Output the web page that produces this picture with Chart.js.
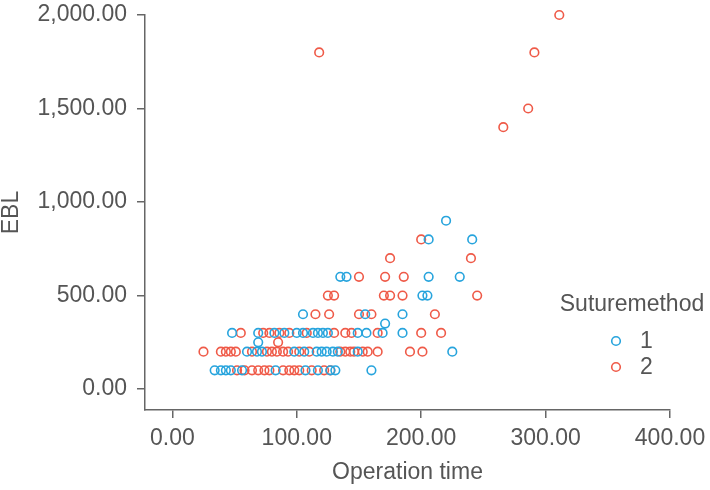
<!DOCTYPE html>
<html>
<head>
<meta charset="utf-8">
<script src="https://cdn.jsdelivr.net/npm/chart.js@4/dist/chart.umd.min.js"></script>
<style>
  html, body { margin: 0; padding: 0; background: #ffffff; }
  #wrap { width: 710px; height: 490px; position: relative; }
</style>
</head>
<body>
<div id="wrap"><canvas id="c" width="710" height="490"></canvas></div>
<script>
// ---- Data ----
const seriesNames = ['1', '2'];
const legendTitle = 'Suturemethod';
const xTitle = 'Operation time';
const yTitle = 'EBL';
const xTickValues = [0, 100, 200, 300, 400];
const yTickValues = [0, 500, 1000, 1500, 2000];

// Suturemethod 1 (blue)
const time1 = [34, 39, 43, 47, 56, 83, 107, 117, 127, 131, 160,
               60, 68, 72, 98, 106, 116, 120, 124, 129, 133, 149, 225,
               69,
               48, 69, 82, 90, 100, 105, 113, 117, 121, 125, 149, 156, 169, 185,
               171,
               105, 155, 185,
               201, 205,
               135, 140, 206, 231,
               206, 241,
               220];
const ebl1  = [100, 100, 100, 100, 100, 100, 100, 100, 100, 100, 100,
               200, 200, 200, 200, 200, 200, 200, 200, 200, 200, 200, 200,
               250,
               300, 300, 300, 300, 300, 300, 300, 300, 300, 300, 300, 300, 300, 300,
               350,
               400, 400, 400,
               500, 500,
               600, 600, 600, 600,
               800, 800,
               900];

// Suturemethod 2 (red)
const time2 = [52, 58, 64, 69, 74, 78, 89, 94, 98, 102, 112, 122, 127,
               25, 39, 43, 47, 51, 64, 76, 80, 84, 89, 93, 102, 110, 135, 139, 143, 146, 153, 157, 165, 191, 201,
               85,
               55, 73, 78, 86, 94, 108, 130, 139, 144, 165, 200, 216,
               115, 126, 150, 160, 211,
               125, 130, 170, 175, 185, 245,
               150, 171, 186,
               175, 240,
               200,
               266, 286, 118, 291, 311];
const ebl2  = [100, 100, 100, 100, 100, 100, 100, 100, 100, 100, 100, 100, 100,
               200, 200, 200, 200, 200, 200, 200, 200, 200, 200, 200, 200, 200, 200, 200, 200, 200, 200, 200, 200, 200, 200,
               250,
               300, 300, 300, 300, 300, 300, 300, 300, 300, 300, 300, 300,
               400, 400, 400, 400, 400,
               500, 500, 500, 500, 500, 500,
               600, 600, 600,
               700, 700,
               800,
               1400, 1500, 1800, 1800, 2000];

// ---- Styling ----
const BLUE = '#27a4dd';
const RED = '#ef5a48';
const AXIS = '#666666';
const TEXT = '#555555';
const FONT = "'Liberation Sans', Arial, Helvetica, sans-serif";
const FS = 23;

const toPoints = (xs, ys) => xs.map((x, i) => ({ x: x, y: ys[i] }));
const fmt = v => Number(v).toLocaleString('en-US', { minimumFractionDigits: 2, maximumFractionDigits: 2 });

const legendPlugin = {
  id: 'customLegend',
  afterDraw(chart) {
    const ctx = chart.ctx;
    ctx.save();
    ctx.font = FS + 'px ' + FONT;
    ctx.fillStyle = TEXT;
    ctx.textBaseline = 'middle';
    ctx.textAlign = 'center';
    ctx.fillText(legendTitle, 632, 305);
    const rows = [341, 367];
    chart.data.datasets.forEach((ds, i) => {
      ctx.beginPath();
      ctx.arc(616, rows[i], 4.3, 0, Math.PI * 2);
      ctx.lineWidth = 1.6;
      ctx.strokeStyle = ds.borderColor;
      ctx.stroke();
      ctx.textAlign = 'left';
      ctx.fillStyle = TEXT;
      ctx.fillText(ds.label, 640, rows[i] + 1);
    });
    ctx.restore();
  }
};

new Chart(document.getElementById('c'), {
  type: 'scatter',
  data: {
    datasets: [
      { label: seriesNames[0], data: toPoints(time1, ebl1), borderColor: BLUE, backgroundColor: 'rgba(0,0,0,0)',
        pointRadius: 4.3, pointBorderWidth: 1.6, pointHoverRadius: 4.3, clip: false },
      { label: seriesNames[1], data: toPoints(time2, ebl2), borderColor: RED, backgroundColor: 'rgba(0,0,0,0)',
        pointRadius: 4.3, pointBorderWidth: 1.6, pointHoverRadius: 4.3, clip: false }
    ]
  },
  options: {
    responsive: false,
    animation: false,
    devicePixelRatio: 1,
    layout: { padding: { top: 15, right: 40, bottom: 0, left: 0 } },
    plugins: { legend: { display: false }, tooltip: { enabled: false } },
    scales: {
      x: {
        type: 'linear',
        min: -22,
        max: 400,
        afterBuildTicks: s => { s.ticks = xTickValues.map(v => ({ value: v })); },
        afterFit: s => { s.height = 80; s.paddingLeft = 0; s.paddingRight = 0; },
        grid: { drawOnChartArea: false, drawTicks: true, tickLength: 8, color: AXIS, lineWidth: 1.5 },
        border: { display: true, color: AXIS, width: 1.5 },
        ticks: { color: TEXT, padding: 7, font: { family: FONT, size: FS }, maxRotation: 0, autoSkip: false, callback: v => fmt(v) },
        title: { display: true, text: xTitle, color: TEXT, font: { family: FONT, size: FS, lineHeight: 1 }, padding: { top: 0, bottom: 6 } }
      },
      y: {
        type: 'linear',
        min: -112,
        max: 2000,
        afterBuildTicks: s => { s.ticks = yTickValues.map(v => ({ value: v })); },
        afterFit: s => { s.width = 145; s.paddingTop = 0; s.paddingBottom = 0; },
        grid: { drawOnChartArea: false, drawTicks: true, tickLength: 8, color: AXIS, lineWidth: 1.5 },
        border: { display: true, color: AXIS, width: 1.5 },
        ticks: { color: TEXT, padding: 10, font: { family: FONT, size: FS }, autoSkip: false, callback: v => fmt(v) },
        title: { display: true, text: yTitle, color: TEXT, font: { family: FONT, size: FS, lineHeight: 1 }, padding: { top: 0, bottom: 0 } }
      }
    }
  },
  plugins: [legendPlugin]
});
</script>
</body>
</html>
